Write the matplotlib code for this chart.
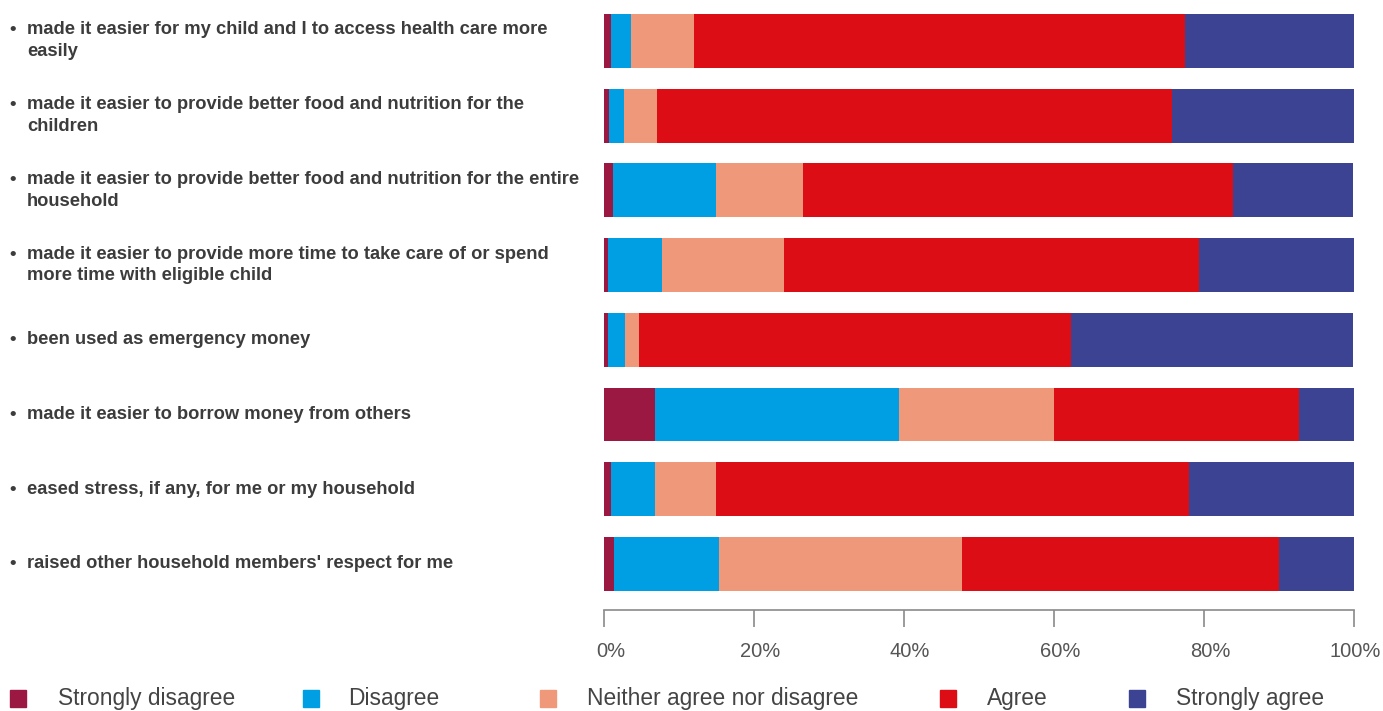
import matplotlib.pyplot as plt
import matplotlib.transforms as mtransforms
from matplotlib.patches import Rectangle
import numpy as np

# Statements (wrapped as in the original chart)
statements = [
    'made it easier for my child and I to access health care more\neasily',
    'made it easier to provide better food and nutrition for the\nchildren',
    'made it easier to provide better food and nutrition for the entire\nhousehold',
    'made it easier to provide more time to take care of or spend\nmore time with eligible child',
    'been used as emergency money',
    'made it easier to borrow money from others',
    'eased stress, if any, for me or my household',
    "raised other household members' respect for me",
]

categories = ['Strongly disagree', 'Disagree', 'Neither agree nor disagree',
              'Agree', 'Strongly agree']

# shares in percent, one list per response category
strongly_disagree = [0.9, 0.7, 1.2, 0.5, 0.5, 6.8, 0.9, 1.3]
disagree = [2.7, 1.9, 13.7, 7.2, 2.3, 32.5, 5.9, 14.0]
neither = [8.4, 4.4, 11.6, 16.3, 1.9, 20.7, 8.1, 32.4]
agree = [65.5, 68.7, 57.3, 55.3, 57.6, 32.7, 63.1, 42.3]
strongly_agree = [22.5, 24.4, 16.1, 20.7, 37.6, 7.3, 22.0, 10.0]

colors = ['#9b1842', '#009fe3', '#ef997a', '#dd0d15', '#3c4393']

series = [strongly_disagree, disagree, neither, agree, strongly_agree]

plt.rcParams['font.family'] = ['Liberation Sans', 'DejaVu Sans']

fig = plt.figure(figsize=(13.83, 7.11), dpi=100)
ax = fig.add_axes([604 / 1383, 1 - 610 / 711, 750 / 1383, 596 / 711])

y = np.arange(len(statements))
left = np.zeros(len(statements))
for vals, col, cat in zip(series, colors, categories):
    vals = np.array(vals)
    ax.barh(y, vals, left=left, height=0.72, color=col, label=cat)
    left += vals

ax.set_xlim(0, 100)
ax.set_ylim(7.616, -0.36)
for s in ['top', 'right', 'left']:
    ax.spines[s].set_visible(False)
ax.spines['bottom'].set_color('#8a8a8a')
ax.spines['bottom'].set_linewidth(1.2)
ax.set_yticks([])
ax.set_xticks(np.arange(0, 101, 20))
ax.set_xticklabels([f'{v}%' for v in range(0, 101, 20)])
ax.tick_params(axis='x', direction='out', length=12, width=1.2, color='#8a8a8a',
               labelsize=14.5, labelcolor='#555555', pad=11)
# labels sit a little to the right of their ticks (last one kept inside)
for lab, dx in zip(ax.get_xticklabels(), [7, 6, 6, 6, 6, 1]):
    lab.set_transform(lab.get_transform() +
                      mtransforms.ScaledTranslation(dx / 100, 0, fig.dpi_scale_trans))

# statement labels with bullets
blend = mtransforms.blended_transform_factory(fig.transFigure, ax.transData)
for i, text in enumerate(statements):
    nlines = text.count('\n') + 1
    ax.text(27 / 1383, i, text, transform=blend, ha='left', va='center',
            fontsize=13.2, fontweight='bold', color='#3c3c3c', linespacing=1.37)
    ax.text(9 / 1383, i, '•' + '\n ' * (nlines - 1), transform=blend, ha='left',
            va='center', fontsize=13.2, fontweight='bold', color='#3c3c3c',
            linespacing=1.37)

# legend drawn along the bottom
sq_x = [10, 303, 540, 940, 1129]
txt_x = [58, 348, 587, 987, 1176]
for sx, tx, col, cat in zip(sq_x, txt_x, colors, categories):
    fig.patches.append(Rectangle((sx / 1383, 1 - 707 / 711), 16 / 1383, 17 / 711,
                                 transform=fig.transFigure, color=col))
    fig.text(tx / 1383, 1 - 699 / 711, cat, ha='left', va='center',
             fontsize=16.4, color='#444444')

fig.savefig('out.png', dpi=100)
